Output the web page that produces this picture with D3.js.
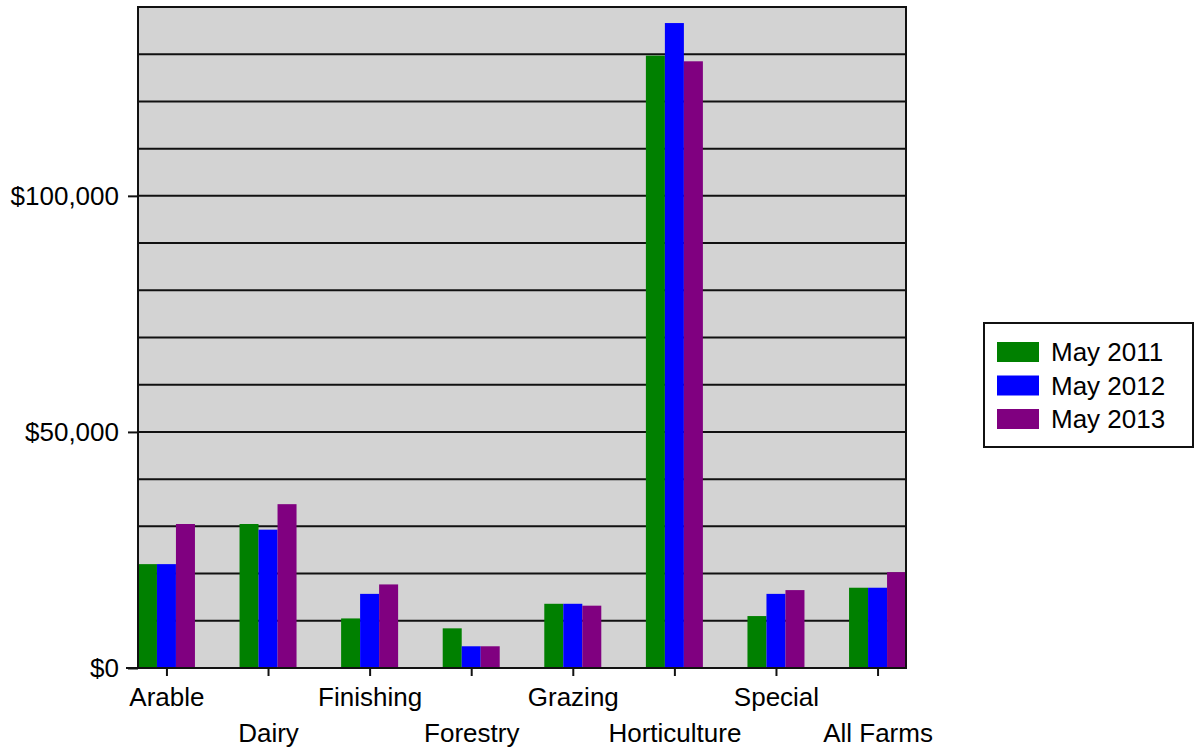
<!DOCTYPE html>
<html>
<head>
<meta charset="utf-8">
<script src="https://cdn.jsdelivr.net/npm/d3@7"></script>
<style>
  body { margin: 0; background: white; }
  svg { font-family: "Liberation Sans", Arial, sans-serif; }
  .grid line { stroke: #111; stroke-width: 2px; }
  .axis path, .axis line { stroke: #111; stroke-width: 2px; fill: none; }
  .axis text { fill: black; font-size: 26px; }
</style>
</head>
<body>
<svg id="chart" width="1194" height="752"></svg>
<script>
  var categories = ['Arable', 'Dairy', 'Finishing', 'Forestry', 'Grazing', 'Horticulture', 'Special', 'All Farms'];
  var seriesNames = ['May 2011', 'May 2012', 'May 2013'];
  var seriesColors = ['#008000', '#0000ff', '#800080'];
  var may2011 = [22000, 30500, 10500, 8400, 13600, 129700, 11000, 17000];
  var may2012 = [22000, 29300, 15700, 4600, 13600, 136600, 15700, 17000];
  var may2013 = [30500, 34700, 17700, 4600, 13200, 128500, 16500, 20300];
  var yTickValues = [0, 50000, 100000];

  var series = [may2011, may2012, may2013];

  var margin = {top: 7, left: 138, right: 288, bottom: 84};
  var width = 1194, height = 752;
  var plotW = width - margin.left - margin.right;
  var plotH = height - margin.top - margin.bottom;

  var svg = d3.select('#chart');
  var g = svg.append('g').attr('transform', 'translate(' + margin.left + ',' + margin.top + ')');

  var x = d3.scalePoint().domain(categories).range([0, plotW]).padding(0.28);
  var inner = d3.scaleBand().domain(d3.range(series.length)).range([-28.5, 28.5]);
  var y = d3.scaleLinear().domain([0, 140000]).range([plotH, 0]);

  g.append('rect')
    .attr('width', plotW).attr('height', plotH)
    .attr('fill', '#d3d3d3');

  // gridlines every 10,000
  g.append('g').attr('class', 'grid')
    .selectAll('line').data(d3.range(10000, 140000, 10000))
    .enter().append('line')
    .attr('x1', 0).attr('x2', plotW)
    .attr('y1', function (d) { return y(d); })
    .attr('y2', function (d) { return y(d); });

  // bars
  series.forEach(function (vals, si) {
    g.append('g').selectAll('rect').data(vals)
      .enter().append('rect')
      .attr('x', function (d, i) { return x(categories[i]) + inner(si); })
      .attr('width', inner.bandwidth())
      .attr('y', function (d) { return y(d); })
      .attr('height', function (d) { return plotH - y(d); })
      .attr('fill', seriesColors[si]);
  });

  // frame
  g.append('rect')
    .attr('width', plotW).attr('height', plotH)
    .attr('fill', 'none').attr('stroke', '#111').attr('stroke-width', 2);

  var yAxis = d3.axisLeft(y).tickValues(yTickValues).tickSize(10).tickPadding(9)
    .tickFormat(function (d) { return '$' + d3.format(',')(d); });
  g.append('g').attr('class', 'axis').call(yAxis)
    .call(function (s) { s.select('.domain').remove(); });

  var xAxis = d3.axisBottom(x).tickSize(8).tickSizeOuter(0);
  var xg = g.append('g').attr('class', 'axis')
    .attr('transform', 'translate(0,' + plotH + ')').call(xAxis);
  xg.select('.domain').attr('d', 'M-12,0H' + plotW);
  xg.selectAll('.tick text')
    .attr('dy', 0)
    .attr('y', function (d, i) { return i % 2 ? 74 : 38; });

  // legend
  var lg = svg.append('g').attr('transform', 'translate(984,323)');
  lg.append('rect').attr('width', 209).attr('height', 124)
    .attr('fill', 'white').attr('stroke', '#111').attr('stroke-width', 2);
  var item = lg.selectAll('g.item').data(seriesNames).enter().append('g')
    .attr('transform', function (d, i) { return 'translate(13,' + (19 + i * 33.5) + ')'; });
  item.append('rect').attr('width', 42).attr('height', 20)
    .attr('fill', function (d, i) { return seriesColors[i]; });
  item.append('text').attr('x', 54).attr('y', 10).attr('dy', '0.35em')
    .attr('font-size', 26).text(function (d) { return d; });
</script>
</body>
</html>
